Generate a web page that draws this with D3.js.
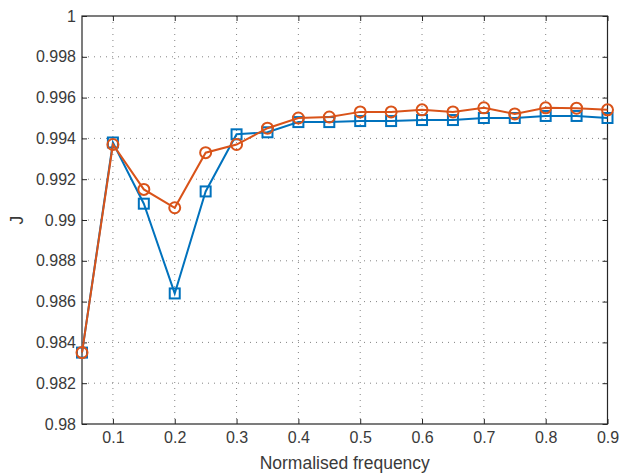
<!DOCTYPE html>
<html>
<head>
<meta charset="utf-8">
<script src="https://cdn.jsdelivr.net/npm/d3@7"></script>
<style>
  body { margin: 0; background: #fff; }
  svg { font-family: "Liberation Sans", Arial, sans-serif; }
</style>
</head>
<body>
<div id="viz"></div>
<script>
// data
const freq = [0.05, 0.1, 0.15, 0.2, 0.25, 0.3, 0.35, 0.4, 0.45, 0.5, 0.55, 0.6, 0.65, 0.7, 0.75, 0.8, 0.85, 0.9];
const squareSeries = [0.9835, 0.9938, 0.9908, 0.9864, 0.9914, 0.9942, 0.9943, 0.9948, 0.9948, 0.99485, 0.99485, 0.9949, 0.9949, 0.9950, 0.9950, 0.9951, 0.9951, 0.9950];
const circleSeries = [0.9835, 0.9937, 0.9915, 0.9906, 0.9933, 0.9937, 0.9945, 0.9950, 0.99505, 0.9953, 0.9953, 0.9954, 0.9953, 0.9955, 0.9952, 0.9955, 0.99548, 0.9954];
const xTicks = [0.1, 0.2, 0.3, 0.4, 0.5, 0.6, 0.7, 0.8, 0.9];
const yTicks = [0.98, 0.982, 0.984, 0.986, 0.988, 0.99, 0.992, 0.994, 0.996, 0.998, 1];

const W = 627, H = 475;
const pLeft = 82, pRight = 607.5, pTop = 16, pBottom = 424;
const textColor = "#3a3a3a";

const svg = d3.select("#viz").append("svg")
  .attr("width", W)
  .attr("height", H);

const x = d3.scaleLinear().domain([0.05, 0.9]).range([pLeft, pRight]);
const y = d3.scaleLinear().domain([0.98, 1]).range([pBottom, pTop]);

// grid lines (dotted)
const grid = svg.append("g").attr("stroke", "#333").attr("stroke-width", 1)
  .attr("stroke-dasharray", "1,5").attr("opacity", 0.6);
grid.selectAll("line.gx").data(xTicks.slice(0, -1)).enter().append("line")
  .attr("x1", d => x(d)).attr("x2", d => x(d))
  .attr("y1", pTop).attr("y2", pBottom);
grid.selectAll("line.gy").data(yTicks.slice(1, -1)).enter().append("line")
  .attr("x1", pLeft).attr("x2", pRight)
  .attr("y1", d => y(d)).attr("y2", d => y(d));

// axes with inward ticks
const fmtY = d => (d === 1 ? "1" : String(+d.toFixed(3)));
const axB = svg.append("g").attr("transform", `translate(0,${pBottom})`)
  .call(d3.axisBottom(x).tickValues(xTicks).tickSize(-5).tickPadding(8).tickFormat(d3.format(".1f")));
const axT = svg.append("g").attr("transform", `translate(0,${pTop})`)
  .call(d3.axisTop(x).tickValues(xTicks).tickSize(-5).tickFormat(""));
const axL = svg.append("g").attr("transform", `translate(${pLeft},0)`)
  .call(d3.axisLeft(y).tickValues(yTicks).tickSize(-5).tickPadding(6).tickFormat(fmtY));
const axR = svg.append("g").attr("transform", `translate(${pRight},0)`)
  .call(d3.axisRight(y).tickValues(yTicks).tickSize(-5).tickFormat(""));

[axB, axT, axL, axR].forEach(a => {
  a.select(".domain").remove();
  a.selectAll(".tick line").attr("stroke", "#262626");
  a.selectAll(".tick text").attr("fill", textColor).style("font-size", "16px");
});

// box
svg.append("rect")
  .attr("x", pLeft).attr("y", pTop)
  .attr("width", pRight - pLeft).attr("height", pBottom - pTop)
  .attr("fill", "none").attr("stroke", "#262626").attr("stroke-width", 1.2);

// series
const line = d3.line().x((d, i) => x(freq[i])).y(d => y(d));
const blue = "#0072BD", orange = "#D95319";

svg.append("path").datum(squareSeries)
  .attr("d", line).attr("fill", "none").attr("stroke", blue).attr("stroke-width", 2);
svg.selectAll("rect.sq").data(squareSeries).enter().append("rect")
  .attr("class", "sq")
  .attr("x", (d, i) => x(freq[i]) - 5).attr("y", d => y(d) - 5)
  .attr("width", 10).attr("height", 10)
  .attr("fill", "none").attr("stroke", blue).attr("stroke-width", 2);

svg.append("path").datum(circleSeries)
  .attr("d", line).attr("fill", "none").attr("stroke", orange).attr("stroke-width", 2);
svg.selectAll("circle.ci").data(circleSeries).enter().append("circle")
  .attr("class", "ci")
  .attr("cx", (d, i) => x(freq[i])).attr("cy", d => y(d))
  .attr("r", 5.5)
  .attr("fill", "none").attr("stroke", orange).attr("stroke-width", 2);

// axis labels
svg.append("text")
  .attr("x", (pLeft + pRight) / 2).attr("y", 469)
  .attr("text-anchor", "middle").attr("fill", textColor)
  .style("font-size", "17.5px").text("Normalised frequency");
svg.append("text")
  .attr("transform", `translate(23,${(pTop + pBottom) / 2}) rotate(-90)`)
  .attr("text-anchor", "middle").attr("fill", textColor)
  .style("font-size", "17.5px").text("J");
</script>
</body>
</html>
